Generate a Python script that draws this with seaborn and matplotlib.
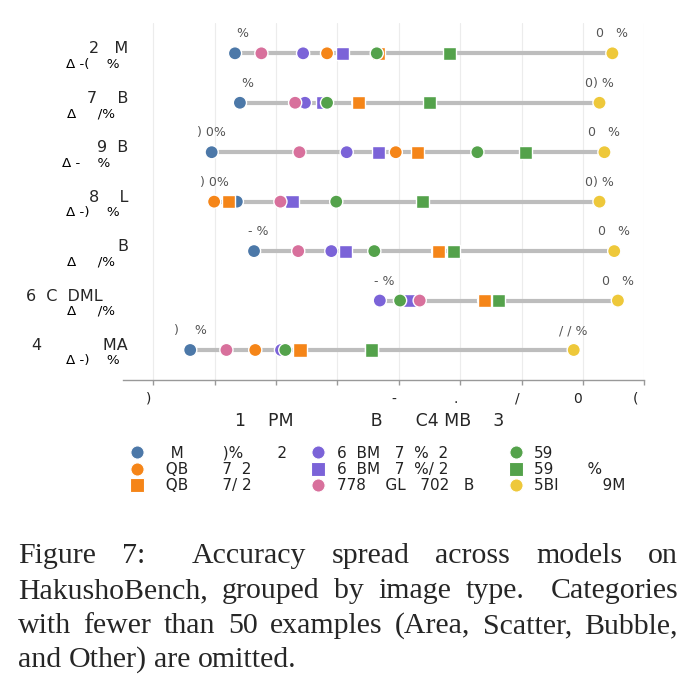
import matplotlib
matplotlib.use("Agg")
import matplotlib.pyplot as plt
from matplotlib.lines import Line2D
import seaborn as sns
import pandas as pd

FS = "\u2007"  # figure space: width of a digit, stands in for glyphs that did not render


def vis(s):
    return s.replace("·", FS)


# rows, top to bottom (text as it shows in the figure)
row_labels = [vis(s) for s in ["2 ·M", "7··B", "9·B", "8··L", "B", "6·C·DML·· ", "4······MA"]]
delta_labels = [vis(s) for s in ["Δ -(··%·", "Δ ··/%· ", "Δ -··%··", "Δ -)··%·",
                                 "Δ ··/%· ", "Δ ··/%· ", "Δ -)··%·"]]
min_labels = [vis(s) for s in ["····%··", "····%··", ") 0%", ") 0%", "·- %", "·- %", ")··%"]]
max_labels = [vis(s) for s in ["0 ·%", "0) %", "0 ·%", "0) %", "0 ·%", "0 ·%", "/ / %"]]

xticks = [20, 30, 40, 50, 60, 70, 80, 90, 100]
xtick_labels = [vis(s) for s in [")·", "··", "··", "··", "-·", ".·", "/·", "0·", "(··"]]
xlabel = vis("1··PM·······B···C4 MB··3·· ")

# models, in drawing / legend order
model_labels = [vis(s) for s in ["· M····)%··· 2", "·QB··· 7·2", "·QB··· 7/ 2",
                                 "6·BM· 7·%·2", "6·BM· 7·%/ 2", "778··GL· 702· B·",
                                 "59", "59··· %", "5BI···· 9M"]]
model_colors = ["#4c78a8", "#f58518", "#f58518", "#7b63d8", "#7b63d8",
                "#d8709c", "#54a24b", "#54a24b", "#eec83a"]
model_markers = ["o", "o", "s", "o", "s", "o", "o", "s", "o"]

# accuracy (%) per model, one value per row
acc = [
    [33.3, 34.1, 29.5, 33.6, 36.4, 60.2, 26.0],
    [48.3, 53.4, 59.5, 29.9, 66.4, 73.9, 36.6],
    [56.7, 53.4, 63.1, 32.2, 66.4, 73.9, 43.9],
    [44.4, 44.7, 51.5, 42.6, 49.0, 56.9, 40.8],
    [50.8, 47.6, 56.7, 42.6, 51.3, 61.7, 55.6],
    [37.6, 43.1, 43.8, 40.7, 43.6, 63.4, 31.9],
    [56.4, 48.3, 72.8, 49.8, 56.0, 60.2, 41.5],
    [68.2, 65.0, 80.6, 63.9, 68.9, 76.2, 55.6],
    [94.8, 92.7, 93.5, 92.7, 95.1, 95.7, 88.5],
]

caption = [
    "Figure 7:  Accuracy spread across models on",
    "HakushoBench, grouped by image type.  Categories",
    "with fewer than 50 examples (Area, Scatter, Bubble,",
    "and Other) are omitted.",
]

records = []
for m, vals in enumerate(acc):
    for r, v in enumerate(vals):
        records.append({"model": m, "row": r, "acc": v})
df = pd.DataFrame(records)

sns.set_style("white")
plt.rcParams["font.family"] = ["DejaVu Sans"]

W, H = 690, 693
fig = plt.figure(figsize=(W / 100, H / 100), dpi=100)
ax = fig.add_axes([122.7 / W, 1 - 380 / H, 521.6 / W, 357 / H])

span = df.groupby("row")["acc"].agg(["min", "max"])
ax.hlines(span.index, span["min"], span["max"], color="#bdbdbd", lw=3, zorder=1)

sns.scatterplot(data=df, x="acc", y="row", hue="model", style="model",
                palette=dict(enumerate(model_colors)),
                markers=dict(enumerate(model_markers)),
                s=90, edgecolor="white", linewidth=1, legend=False, zorder=3, ax=ax)

for r in span.index:
    ax.annotate(min_labels[r], (span.loc[r, "min"], r), xytext=(0, 11.5),
                textcoords="offset points", ha="center", va="baseline",
                fontsize=9, color="#555555")
    ax.annotate(max_labels[r], (span.loc[r, "max"], r), xytext=(0, 11.5),
                textcoords="offset points", ha="center", va="baseline",
                fontsize=9, color="#555555")
    ax.annotate(delta_labels[r], (0, r), xycoords=("axes fraction", "data"),
                xytext=(3.8, -10.4), textcoords="offset points",
                ha="right", va="baseline", fontsize=9.7, color="black")

ax.set_xlim(15, 100)
ax.set_ylim(6.607, -0.613)
ax.set_yticks(range(len(row_labels)))
ax.set_yticklabels(row_labels, fontsize=11.5)
for lab in ax.get_yticklabels():
    lab.set_va("baseline")
ax.tick_params(axis="y", length=0, pad=-3.8)
ax.set_xticks(xticks)
ax.set_xticklabels(xtick_labels, fontsize=10, color="#222222")
ax.tick_params(axis="x", length=3.6, width=1, color="#999999", pad=5, bottom=True)
ax.set_xlabel(xlabel, fontsize=12.5, labelpad=4.3)
ax.set_ylabel("")

ax.grid(axis="x", color="#ececec", lw=0.8)
ax.grid(axis="y", visible=False)
for side in ["left", "right", "top"]:
    ax.spines[side].set_visible(False)
ax.spines["bottom"].set_color("#999999")
ax.spines["bottom"].set_linewidth(1)

handles = [Line2D([], [], ls="none", marker=mk, color=c, markersize=9.5,
                  markeredgecolor="white", markeredgewidth=0.8)
           for mk, c in zip(model_markers, model_colors)]
fig.legend(handles, model_labels, loc="center left",
           bbox_to_anchor=(129.6 / W, 1 - 469.5 / H), ncol=3, frameon=False,
           fontsize=11, handlelength=1.0, handletextpad=0.72, columnspacing=1.56,
           labelspacing=0.08, borderpad=0, borderaxespad=0, labelcolor="#222222")

# caption, justified like the paper text
fig.canvas.draw()
renderer = fig.canvas.get_renderer()
left, right = 18, 678
baselines = [563, 598, 633, 667]
for i, line in enumerate(caption):
    words = line.split()
    texts = [fig.text(0, 1 - baselines[i] / H, w, fontsize=21.5,
                      family="Liberation Serif", va="baseline") for w in words]
    widths = [t.get_window_extent(renderer).width for t in texts]
    if i < len(caption) - 1:
        weights = [1.8 if w.endswith((":", ".")) else 1.0 for w in words[:-1]]
        gap = (right - left - sum(widths)) / sum(weights)
    else:
        weights = [1.0] * (len(words) - 1)
        gap = 7.5
    x = left
    for j, t in enumerate(texts):
        t.set_x(x / W)
        if j < len(weights):
            x += widths[j] + gap * weights[j]

fig.savefig("out.png", dpi=100)
